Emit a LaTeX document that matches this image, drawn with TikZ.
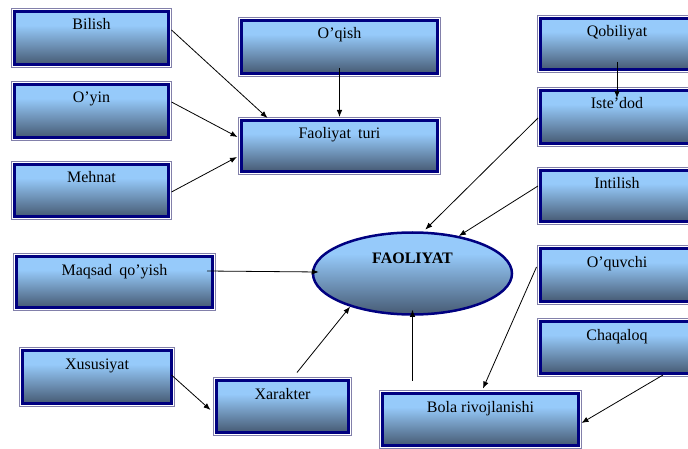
\documentclass[tikz,border=0pt]{standalone}
\usepackage{fontspec}
\setmainfont{Liberation Serif}
\usetikzlibrary{shapes.geometric,arrows.meta}
\definecolor{navy}{RGB}{0,0,128}
\definecolor{frm}{RGB}{130,128,170}
\definecolor{ctop}{RGB}{150,202,250}
\definecolor{cbot}{RGB}{70,90,115}
\pgfdeclareverticalshading{boxshade}{100bp}{color(0bp)=(cbot); color(25bp)=(cbot); color(62bp)=(ctop); color(100bp)=(ctop)}
\tikzset{
  frameout/.style={draw=frm,line width=1.2pt},
  boxst/.style={rectangle,draw=navy,line width=3pt,shading=boxshade,
    inner sep=0pt,font=\fontsize{16}{18}\selectfont,text=black},
  ovalst/.style={ellipse,draw=navy,line width=2.5pt,shading=boxshade,
    inner sep=0pt,font=\fontsize{16}{18}\selectfont\bfseries,text=black},
  arr/.style={draw=black,line width=0.8pt,-{Latex[length=7pt,width=5.5pt]}}
}
\newcommand\mybox[6]{%
  \draw[frameout] (#2+0.6,#3+0.6) rectangle (#4-0.6,#5-0.6);
  \pgfmathsetmacro\bw{#4-#2-7}%
  \pgfmathsetmacro\bh{#5-#3-7}%
  \pgfmathsetmacro\bd{#5-#3-7-18.5}%
  \node[boxst,minimum width=\bw pt,minimum height=\bh pt,text height=18.5pt,text depth=\bd pt] (#1) at ({(#2+#4)/2},{(#3+#5)/2}) {#6};
}
\begin{document}
\begin{tikzpicture}[x=1pt,y=-1pt]
\useasboundingbox[fill=white] (0,0) rectangle (688,449);
\clip (0,0) rectangle (688,449);
\mybox{bilish}{11}{8}{172}{68}{Bilish}
\mybox{oyin}{11}{81}{172}{141}{O’yin}
\mybox{mehnat}{11}{161}{172}{220}{Mehnat}
\mybox{oqish}{238}{17}{441}{77}{O’qish}
\mybox{ftur}{238}{117}{441}{175}{Faoliyat\hspace{0.45em}turi}
\mybox{qob}{537}{15}{697}{73}{Qobiliyat}
\mybox{iste}{537}{87}{697}{147}{Iste’dod}
\mybox{intil}{537}{167}{697}{225}{Intilish}
\mybox{maqsad}{13}{253}{216}{311}{Maqsad\hspace{0.45em}qo’yish}
\mybox{oquv}{537}{245}{697}{305}{O’quvchi}
\mybox{chaq}{537}{318}{697}{377}{Chaqaloq}
\mybox{xus}{19}{347}{175}{407}{Xususiyat}
\mybox{xar}{213}{377}{352}{436}{Xarakter}
\mybox{bola}{379}{390}{582}{449}{Bola rivojlanishi}
\node[ovalst,minimum width=199pt,minimum height=82pt,text height=12pt,text depth=33pt] (faol) at (412.5,273.5) {FAOLIYAT};
% connectors
\draw[arr] ([xshift=1.5pt,yshift=8pt]bilish.east) -- ([xshift=-72pt,yshift=1pt]ftur.north);
\draw[arr] ([xshift=1.5pt,yshift=9pt]oyin.east) -- ([xshift=-2.5pt,yshift=9pt]ftur.west);
\draw[arr] ([xshift=1.5pt,yshift=-1.5pt]mehnat.east) -- ([xshift=-3pt,yshift=-11pt]ftur.west);
\draw[arr] ([yshift=-21pt]oqish.center) -- ([yshift=2pt]ftur.north);
\draw[arr] ([yshift=-18pt]qob.center) -- ([yshift=19pt]iste.center);
\draw[arr] ([xshift=-1pt,yshift=-1pt]iste.west) -- ([yshift=2pt]faol.73);
\draw[arr] ([xshift=-1pt,yshift=10pt]intil.west) -- (faol.39);
\draw[arr] ([xshift=92.5pt,yshift=11pt]maqsad.center) -- ([xshift=7pt,yshift=1.5pt]faol.west);
\draw[arr] ([xshift=14.5pt,yshift=6.5pt]xar.north) -- (faol.208);
\draw[arr] ([xshift=-68pt,yshift=11.5pt]bola.north) -- ([yshift=6pt]faol.south);
\draw[arr] ([xshift=-1.5pt,yshift=2pt]xus.east) -- ([xshift=-4.5pt,yshift=-3.5pt]xar.west);
\draw[arr] ([xshift=-2.5pt,yshift=8pt]oquv.west) -- ([xshift=2.5pt,yshift=3.5pt]bola.north);
\draw[arr] ([xshift=46pt]chaq.south) -- ([xshift=1.5pt,yshift=-3.5pt]bola.east);
\end{tikzpicture}
\end{document}
